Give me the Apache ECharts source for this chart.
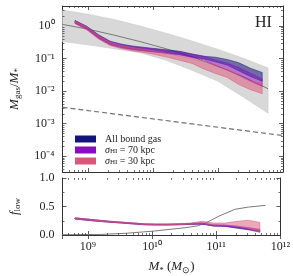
<!DOCTYPE html>
<html><head><meta charset="utf-8">
<script src="https://cdn.jsdelivr.net/npm/echarts@6/dist/echarts.min.js"></script>
<style>html,body{margin:0;padding:0;background:#fff}#c{width:293px;height:276px}</style>
</head><body><div id="c"></div>
<script>
// ---------- data (log10 units where noted) ----------
const logMass = [8.80, 8.98, 9.16, 9.34, 9.52, 9.70, 9.88, 10.06, 10.24, 10.42, 10.60, 10.78, 10.96, 11.14, 11.32, 11.50, 11.68];

// top panel: log10(Mgas/M*) band edges
const allLo   = [0.09, -0.09, -0.37, -0.57, -0.66, -0.72, -0.76, -0.80, -0.84, -0.88, -0.95, -1.01, -1.10, -1.20, -1.38, -1.55, -1.70];
const allHi   = [0.17, -0.01, -0.27, -0.47, -0.56, -0.62, -0.66, -0.70, -0.74, -0.78, -0.86, -0.93, -0.96, -1.03, -1.13, -1.30, -1.43];
const s70Lo   = [0.08, -0.10, -0.38, -0.58, -0.67, -0.73, -0.77, -0.81, -0.85, -0.90, -0.97, -1.04, -1.22, -1.35, -1.52, -1.70, -1.86];
const s70Hi   = [0.16, -0.02, -0.28, -0.48, -0.58, -0.64, -0.68, -0.72, -0.77, -0.81, -0.87, -0.93, -1.05, -1.14, -1.28, -1.45, -1.63];
const s30Lo   = [0.07, -0.12, -0.40, -0.60, -0.70, -0.77, -0.82, -0.89, -0.97, -1.06, -1.15, -1.32, -1.46, -1.58, -1.80, -1.96, -2.08];
const s30Hi   = [0.15, -0.03, -0.30, -0.50, -0.60, -0.67, -0.72, -0.78, -0.85, -0.93, -0.99, -1.10, -1.20, -1.33, -1.51, -1.70, -1.76];

// observational band (log10)
const obsMass  = [8.606, 9.0, 9.4, 9.8, 10.2, 10.6, 11.0, 11.4, 11.77];
const obsMid   = [0.05, -0.10, -0.28, -0.48, -0.70, -0.95, -1.24, -1.57, -1.93];
const obsHi    = [0.49, 0.36, 0.20, 0.00, -0.22, -0.46, -0.72, -1.00, -1.29];
const obsLo    = [-0.48, -0.58, -0.70, -0.82, -1.05, -1.36, -1.70, -2.20, -2.68];

// dashed reference line (log10)
const dashMass = [8.606, 12.0];
const dashVal  = [-2.50, -3.37];

// bottom panel: f_low band edges
const fAllLo = [0.280, 0.260, 0.240, 0.225, 0.210, 0.195, 0.180, 0.175, 0.175, 0.180, 0.185, 0.190, 0.155, 0.150, 0.120, 0.090, 0.050];
const fAllHi = [0.300, 0.280, 0.260, 0.240, 0.225, 0.210, 0.195, 0.190, 0.190, 0.195, 0.200, 0.205, 0.170, 0.165, 0.140, 0.110, 0.070];
const f70Lo  = [0.280, 0.260, 0.240, 0.225, 0.210, 0.195, 0.180, 0.175, 0.175, 0.180, 0.187, 0.195, 0.160, 0.155, 0.130, 0.100, 0.070];
const f70Hi  = [0.300, 0.280, 0.260, 0.240, 0.225, 0.210, 0.195, 0.190, 0.190, 0.195, 0.203, 0.215, 0.180, 0.175, 0.155, 0.130, 0.100];
const f30Lo  = [0.282, 0.262, 0.242, 0.227, 0.212, 0.197, 0.182, 0.177, 0.177, 0.182, 0.190, 0.200, 0.170, 0.170, 0.160, 0.120, 0.050];
const f30Hi  = [0.302, 0.282, 0.262, 0.242, 0.227, 0.212, 0.197, 0.192, 0.192, 0.197, 0.210, 0.240, 0.210, 0.210, 0.240, 0.260, 0.220];

// gray f_low curve
const fObsMass = [8.606, 9.2, 9.6, 9.87, 10.0, 10.28, 10.5, 10.71, 10.85, 11.04, 11.29, 11.5, 11.77];
const fObsVal  = [0.005, 0.01, 0.03, 0.055, 0.065, 0.10, 0.125, 0.16, 0.22, 0.33, 0.45, 0.49, 0.52];

// tick labels
const xTickExp = [9, 10, 11, 12];
const yTickExp = [-4, -3, -2, -1, 0];
const fTicks = ['0.0', '0.5', '1.0'];

const names = ['All bound gas', 'σHI = 70 kpc', 'σHI = 30 kpc'];
const solid = ['#14147f', '#8a0cbf', '#d9587a'];
const fills = ['rgba(20,20,127,0.55)', 'rgba(140,12,190,0.48)', 'rgba(222,80,115,0.5)'];

// ---------- helpers ----------
const P = v => Math.pow(10, v);
const SUP = {'0':'⁰','1':'¹','2':'²','3':'³','4':'⁴','5':'⁵','6':'⁶','7':'⁷','8':'⁸','9':'⁹','-':'⁻'};
const sup = n => String(n).split('').map(c => SUP[c]).join('');
const FONT = 'Liberation Serif';

function logFmt(exps) {
  return function (v) {
    const l = Math.log10(v), r = Math.round(l);
    if (Math.abs(l - r) < 1e-6 && exps.indexOf(r) >= 0) return '10' + sup(r);
    return '';
  };
}

function band(name, xs, lo, hi, fill, stroke, xi, yi, logY, z) {
  const xv = xs.map(P);
  const lv = logY ? lo.map(P) : lo;
  const hv = logY ? hi.map(P) : hi;
  return {
    type: 'custom', name: name, xAxisIndex: xi, yAxisIndex: yi, z: z, silent: true,
    clip: true,
    data: [[xv[0], hv[0]]],
    itemStyle: { color: stroke },
    renderItem: function (params, api) {
      const pts = [];
      for (let i = 0; i < xv.length; i++) pts.push(api.coord([xv[i], hv[i]]));
      for (let i = xv.length - 1; i >= 0; i--) pts.push(api.coord([xv[i], lv[i]]));
      return { type: 'polygon', shape: { points: pts }, style: { fill: fill, stroke: stroke, lineWidth: 0.5 } };
    }
  };
}

function minorTicks(xi, yi, logYAxis) {
  const mx = [];
  for (let d = 8; d <= 11; d++) for (let k = 2; k <= 9; k++) mx.push(k * P(d));
  const my = [];
  if (logYAxis) for (let d = -5; d <= 0; d++) for (let k = 2; k <= 9; k++) my.push(k * P(d));
  return {
    type: 'custom', xAxisIndex: xi, yAxisIndex: yi, z: 20, silent: true,
    data: [[P(10), logYAxis ? 1e-2 : 0.5]],
    renderItem: function (params, api) {
      const cs = params.coordSys;
      const ch = [];
      const st = { stroke: '#333', lineWidth: 0.7 };
      const y0 = logYAxis ? 1e-2 : 0.5;
      mx.forEach(v => {
        const x = Math.round(api.coord([v, y0])[0]) + 0.5;
        if (x <= cs.x + 0.5 || x >= cs.x + cs.width - 0.5) return;
        ch.push({ type: 'line', shape: { x1: x, y1: cs.y + cs.height, x2: x, y2: cs.y + cs.height - 2 }, style: st });
        ch.push({ type: 'line', shape: { x1: x, y1: cs.y, x2: x, y2: cs.y + 2 }, style: st });
      });
      my.forEach(v => {
        const y = Math.round(api.coord([P(10), v])[1]) + 0.5;
        if (y <= cs.y + 0.5 || y >= cs.y + cs.height - 0.5) return;
        ch.push({ type: 'line', shape: { x1: cs.x, y1: y, x2: cs.x + 2, y2: y }, style: st });
        ch.push({ type: 'line', shape: { x1: cs.x + cs.width, y1: y, x2: cs.x + cs.width - 2, y2: y }, style: st });
      });
      return { type: 'group', children: ch };
    }
  };
}

const axLine = { show: true, lineStyle: { color: '#333', width: 1 } };
const tick = { show: true, inside: true, length: 4, lineStyle: { color: '#333', width: 0.8 } };
const labelStyle = { fontFamily: FONT, fontSize: 12, color: '#222' };
const xMin = P(8.606), xMax = P(12);
const yMin = P(-4.49), yMax = P(0.615);

const rich = {
  i: { fontFamily: FONT, fontStyle: 'italic', fontSize: 13, color: '#222', lineHeight: 16 },
  n: { fontFamily: FONT, fontSize: 13, color: '#222', lineHeight: 16 },
  s: { fontFamily: FONT, fontSize: 9, color: '#222', verticalAlign: 'bottom', lineHeight: 9 },
  li: { fontFamily: FONT, fontStyle: 'italic', fontSize: 10, color: '#222', lineHeight: 10 },
  ln: { fontFamily: FONT, fontSize: 10, color: '#222', lineHeight: 10 },
  ls: { fontFamily: FONT, fontSize: 7, color: '#222', verticalAlign: 'bottom', lineHeight: 6 }
};

const series = [];
series.push(band('obs', obsMass, obsLo, obsHi, '#d8d8d8', '#c4c4c4', 0, 0, true, 1));
series.push({
  type: 'line', xAxisIndex: 0, yAxisIndex: 0, z: 2, silent: true, symbol: 'none',
  data: obsMass.map((m, i) => [P(m), P(obsMid[i])]),
  lineStyle: { color: '#7a7a7a', width: 1 }
});
series.push({
  type: 'line', xAxisIndex: 0, yAxisIndex: 0, z: 2, silent: true, symbol: 'none',
  data: dashMass.map((m, i) => [P(m), P(dashVal[i])]),
  lineStyle: { color: '#707070', width: 1.2, type: [5, 3] }
});
series.push(band(names[0], logMass, allLo, allHi, fills[0], solid[0], 0, 0, true, 3));
series.push(band(names[1], logMass, s70Lo, s70Hi, fills[1], solid[1], 0, 0, true, 4));
series.push(band(names[2], logMass, s30Lo, s30Hi, fills[2], solid[2], 0, 0, true, 5));
series.push({
  type: 'line', xAxisIndex: 2, yAxisIndex: 2, z: 2, silent: true, symbol: 'none',
  data: fObsMass.map((m, i) => [P(m), fObsVal[i]]),
  lineStyle: { color: '#7a7a7a', width: 1 }
});
series.push(band(names[0], logMass, fAllLo, fAllHi, fills[0], solid[0], 2, 2, false, 3));
series.push(band(names[1], logMass, f70Lo, f70Hi, fills[1], solid[1], 2, 2, false, 4));
series.push(band(names[2], logMass, f30Lo, f30Hi, fills[2], solid[2], 2, 2, false, 5));
series.push(minorTicks(0, 0, true));
series.push(minorTicks(2, 2, false));

const option = {
  animation: false,
  backgroundColor: '#fff',
  grid: [
    { left: 60, top: 6, width: 223, height: 166 },
    { left: 60, top: 178, width: 223, height: 58 }
  ],
  xAxis: [
    { type: 'log', gridIndex: 0, position: 'bottom', min: xMin, max: xMax, axisLine: axLine, axisTick: tick, axisLabel: { show: false }, splitLine: { show: false } },
    { type: 'log', gridIndex: 0, position: 'top', min: xMin, max: xMax, axisLine: axLine, axisTick: tick, axisLabel: { show: false }, splitLine: { show: false } },
    { type: 'log', gridIndex: 1, position: 'bottom', min: xMin, max: xMax, axisLine: axLine, axisTick: tick,
      axisLabel: Object.assign({ margin: 6, formatter: logFmt(xTickExp), showMinLabel: true, showMaxLabel: true, hideOverlap: false }, labelStyle),
      splitLine: { show: false },
      name: '{i|M}{s|*}{n| (}{i|M}{s|⊙}{n|)}', nameLocation: 'middle', nameGap: 24, nameTextStyle: { rich: rich } },
    { type: 'log', gridIndex: 1, position: 'top', min: xMin, max: xMax, axisLine: axLine, axisTick: tick, axisLabel: { show: false }, splitLine: { show: false } }
  ],
  yAxis: [
    { type: 'log', gridIndex: 0, position: 'left', min: yMin, max: yMax, axisLine: axLine, axisTick: tick,
      axisLabel: Object.assign({ margin: 8, formatter: logFmt(yTickExp) }, labelStyle), splitLine: { show: false },
      name: '{i|M}{s|gas}{n|/}{i|M}{s|*}', nameLocation: 'middle', nameRotate: 90, nameGap: 40, nameTextStyle: { rich: rich } },
    { type: 'log', gridIndex: 0, position: 'right', min: yMin, max: yMax, axisLine: axLine, axisTick: tick, axisLabel: { show: false }, splitLine: { show: false } },
    { type: 'value', gridIndex: 1, position: 'left', min: 0, max: 1, interval: 0.5, axisLine: axLine, axisTick: tick,
      minorTick: { show: true, splitNumber: 2, length: 2, lineStyle: { color: '#333', width: 0.7 } },
      axisLabel: Object.assign({ margin: 8, formatter: v => fTicks[Math.round(v * 2)] }, labelStyle), splitLine: { show: false },
      name: '{i|f}{s|low}', nameLocation: 'middle', nameRotate: 90, nameGap: 40, nameTextStyle: { rich: rich } },
    { type: 'value', gridIndex: 1, position: 'right', min: 0, max: 1, interval: 0.5, axisLine: axLine, axisTick: tick,
      minorTick: { show: true, splitNumber: 2, length: 2, lineStyle: { color: '#333', width: 0.7 } },
      axisLabel: { show: false }, splitLine: { show: false } }
  ],
  legend: {
    show: true, orient: 'vertical', left: 70, top: 129, itemWidth: 21, itemHeight: 7, itemGap: 1,
    icon: 'rect', selectedMode: false,
    data: names.map((n, i) => ({ name: n, itemStyle: { color: solid[i], opacity: 1, borderWidth: 0 } })),
    formatter: function (n) {
      if (n === names[0]) return '{ln|All bound gas}';
      if (n === names[1]) return '{li|σ}{ls|HI}{ln| = 70 kpc}';
      return '{li|σ}{ls|HI}{ln| = 30 kpc}';
    },
    textStyle: { rich: rich, padding: [0, 0, 0, 4] }
  },
  graphic: [
    { type: 'text', left: 255, top: 15, style: { text: 'HI', font: '16px "Liberation Serif"', fill: '#222' } }
  ],
  series: series
};

const chart = echarts.init(document.getElementById('c'));
chart.setOption(option);
</script>
</body></html>
